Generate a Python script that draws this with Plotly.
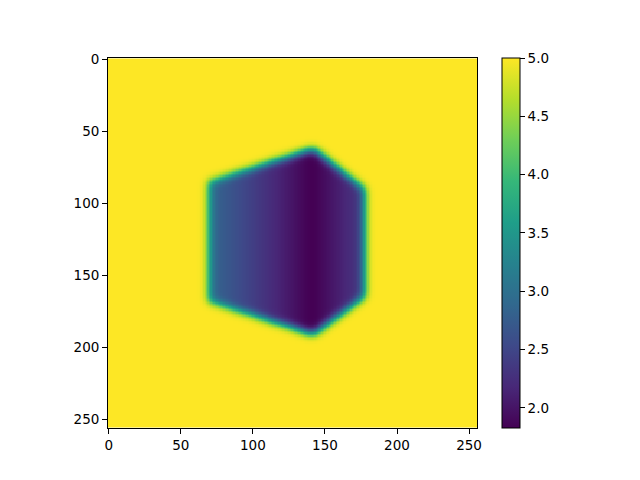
import numpy as np
import plotly.graph_objects as go

# ---- data ----
grid_size = 256
background_value = 5.0
# hexagon outline (column, row) of the dark shape
poly_x = [70.0, 142.0, 178.0, 178.0, 142.0, 70.0]
poly_y = [85.0, 62.0, 90.5, 164.5, 191.0, 168.0]
# value profile across the shape (by column)
profile_x = [70.0, 141.0, 178.0]
profile_v = [2.88, 1.79, 2.40]
blur_sigma = 3.0
colorbar_ticks = [2.0, 2.5, 3.0, 3.5, 4.0, 4.5, 5.0]
axis_ticks = [0, 50, 100, 150, 200, 250]

# ---- build image ----
cols = np.arange(grid_size)
rows = np.arange(grid_size)
XX, YY = np.meshgrid(cols + 0.0, rows + 0.0)

inside = np.zeros(XX.shape, dtype=bool)
n = len(poly_x)
for i in range(n):
    x1, y1 = poly_x[i], poly_y[i]
    x2, y2 = poly_x[(i + 1) % n], poly_y[(i + 1) % n]
    cond = (y1 > YY) != (y2 > YY)
    with np.errstate(divide="ignore", invalid="ignore"):
        xint = x1 + (YY - y1) * (x2 - x1) / (y2 - y1)
    inside ^= cond & (XX < xint)

field = np.full(XX.shape, background_value)
field[inside] = np.interp(XX[inside], profile_x, profile_v)

# separable gaussian blur (edge padding)
r = int(np.ceil(4 * blur_sigma))
k = np.exp(-0.5 * (np.arange(-r, r + 1) / blur_sigma) ** 2)
k /= k.sum()
pad = np.pad(field, r, mode="edge")
tmp = np.apply_along_axis(lambda v: np.convolve(v, k, mode="valid"), 1, pad)
img = np.apply_along_axis(lambda v: np.convolve(v, k, mode="valid"), 0, tmp)

zmin = float(img.min())
zmax = float(img.max())

font = dict(family="DejaVu Sans", size=13.5, color="black")

# the page body has an 8px margin, so the figure is sized/offset to compensate
W, H = 632, 472
off = 8
plot_l, plot_r = 107.7 - off, 477.3 - off
plot_t, plot_b = 58.3 - off, 427.7 - off
cb_x = 502.7 - off

fig = go.Figure(
    go.Heatmap(
        z=img,
        x=cols,
        y=rows,
        colorscale="Viridis",
        zmin=zmin,
        zmax=zmax,
        zsmooth=False,
        hoverinfo="skip",
        colorbar=dict(
            x=(cb_x - plot_l) / (plot_r - plot_l),
            xanchor="left",
            xpad=0,
            ypad=0,
            y=0.5,
            yanchor="middle",
            len=1.0,
            lenmode="fraction",
            thickness=18,
            thicknessmode="pixels",
            outlinewidth=1,
            outlinecolor="black",
            ticks="outside",
            ticklen=4.9,
            tickwidth=1,
            tickcolor="black",
            tickvals=colorbar_ticks,
            ticktext=[f"{v:.1f}" for v in colorbar_ticks],
            tickfont=font,
        ),
    )
)

axis_common = dict(
    showgrid=False,
    zeroline=False,
    showline=True,
    linecolor="black",
    linewidth=1,
    mirror=True,
    ticks="outside",
    ticklen=4.9,
    tickwidth=1,
    tickcolor="black",
    tickvals=axis_ticks,
    ticktext=[str(t) for t in axis_ticks],
    tickfont=font,
    automargin=False,
)

fig.update_layout(
    width=W,
    height=H,
    margin=dict(l=plot_l, r=W - plot_r, t=plot_t, b=H - plot_b, autoexpand=False),
    paper_bgcolor="white",
    plot_bgcolor="white",
    xaxis=dict(range=[-0.5, grid_size - 0.5], **axis_common),
    yaxis=dict(range=[grid_size - 0.5, -0.5], scaleanchor="x", scaleratio=1, **axis_common),
    font=font,
)

fig.write_html("out.html")
